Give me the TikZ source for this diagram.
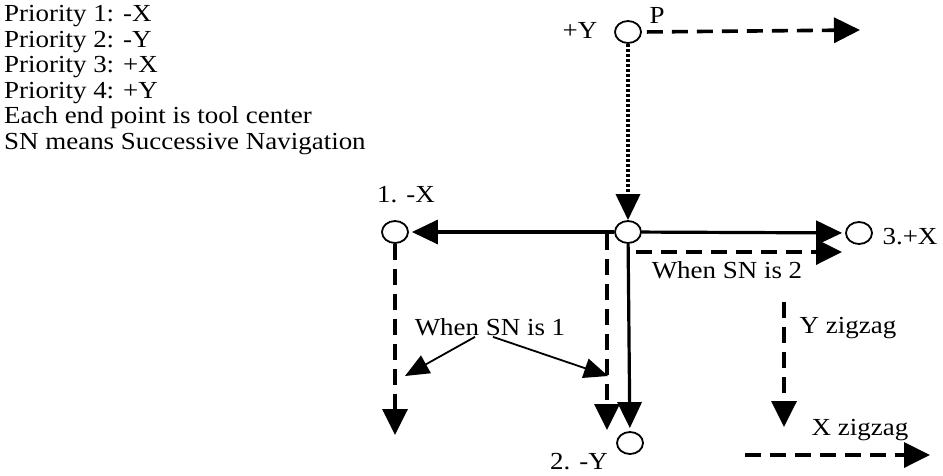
\documentclass[tikz,border=0pt]{standalone}
\usepackage{fontspec}
\setmainfont{Liberation Serif}[FakeStretch=1.1]
\usetikzlibrary{arrows.meta,shapes.geometric}

\begin{document}
\begin{tikzpicture}[x=1pt,y=-1pt,every node/.style={font=\fontsize{24.5}{25.6}\selectfont,inner sep=1pt},
  pt/.style={draw,ellipse,line width=1.8pt,minimum width=26pt,minimum height=22pt,inner sep=0pt},
  solid arr/.style={line width=3.2pt,-{Triangle[length=26pt,width=24pt]}},
  dash arr/.style={line width=3.6pt,dash pattern=on 16pt off 9pt,-{Triangle[length=26pt,width=25pt]}},
  dot arr/.style={line width=3.6pt,dash pattern=on 3pt off 2pt,-{Triangle[length=26pt,width=24pt]}},
  note arr/.style={line width=1.8pt,-{Triangle[length=24pt,width=20pt]}}]
\useasboundingbox (0,0) rectangle (943,475);

% legend
\node[anchor=north west,align=left] (legend) at (3,4)
  {Priority 1: -X\\Priority 2: -Y\\Priority 3: +X\\Priority 4: +Y\\Each end point is tool center\\SN means Successive Navigation};

% tool centres
\node[pt] (p) at (628,32) {};
\node[pt] (c) at (628,232) {};
\node[pt] (l) at (395,232) {};
\node[pt] (r) at (859,233) {};
\node[pt] (d) at (630,443) {};

\node (py) at (580,30) {+Y};
\node (pp) at (657,15) {P};
\node (l1) at (406,195) {1. -X};
\node (r1) at (910,237) {3.+X};
\node (d1) at (579,462) {2. -Y};
\node (w1) at (490,327) {When SN is 1};
\node (w2) at (727,270) {When SN is 2};
\node (yz) at (848,328) {Y zigzag};
\node (xz) at (860,430) {X zigzag};

\coordinate (a1) at (607,234);
\coordinate (a2) at (607,430);
\coordinate (b2) at (395,435);
\coordinate (s1) at (636,252);
\coordinate (s2) at (842,252);
\coordinate (y1) at (784,302);
\coordinate (y2) at (784,427);
\coordinate (x1) at (745,455);
\coordinate (x2) at (930,455);
\coordinate (t1) at (405,376);
\coordinate (t2) at (608,376);
\coordinate (q2) at (860,30);

% moves
\draw[dot arr] (p) -- (c);
\draw[dash arr,shorten <=5pt] (p.east) -- (q2);
\foreach \a/\b in {c/l,c/r,c/d}
  \draw[solid arr,shorten >=3pt] (\a) -- (\b);
\foreach \a/\b in {a1/a2,l/b2,s1/s2,y1/y2,x1/x2}
  \draw[dash arr] (\a) -- (\b);
\draw[note arr] ([xshift=-15pt]w1.south) -- (t1);
\draw[note arr] ([xshift=3pt]w1.south) -- (t2);
\end{tikzpicture}
\end{document}
